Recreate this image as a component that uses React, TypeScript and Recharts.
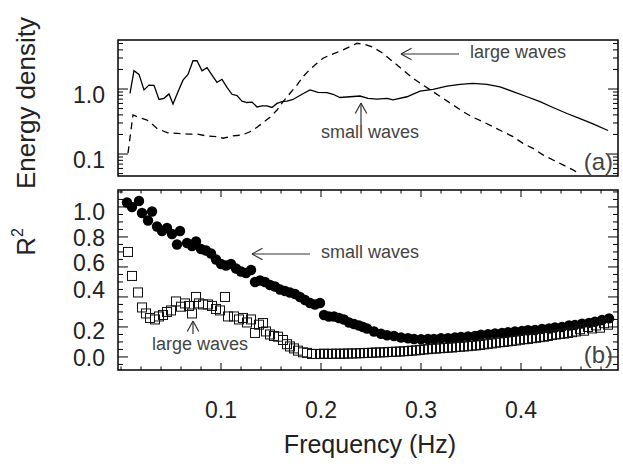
import React from "react";
import {
	Line,
	LineChart,
	ReferenceArea,
	Scatter,
	ScatterChart,
	XAxis,
	YAxis,
} from "recharts";

const FONT = "'Liberation Sans', Arial, Helvetica, sans-serif";
const PLOT_W = 500;
const TOP_H = 136;
const BOT_H = 180;

// panel (a) - energy density, solid = small waves, dashed = large waves
const solidFreq = [
	0.009, 0.013, 0.018, 0.023, 0.028, 0.033, 0.038, 0.043, 0.048, 0.052, 0.057,
	0.062, 0.067, 0.072, 0.076, 0.081, 0.086, 0.091, 0.096, 0.101, 0.106, 0.111,
	0.116, 0.121, 0.126, 0.131, 0.136, 0.141, 0.146, 0.151, 0.156, 0.161, 0.166,
	0.172, 0.181, 0.189, 0.197, 0.206, 0.212, 0.219, 0.229, 0.239, 0.247, 0.256,
	0.266, 0.272, 0.286, 0.299, 0.312, 0.326, 0.339, 0.352, 0.366, 0.379, 0.392,
	0.406, 0.419, 0.432, 0.446, 0.459, 0.472, 0.487,
];
const solidEnergy = [
	0.86, 1.91, 1.68, 0.97, 1.15, 1.14, 0.69, 0.72, 0.84, 0.59, 0.91, 1.37, 1.68,
	2.72, 2.72, 1.91, 2.13, 1.64, 1.27, 1.41, 1.06, 0.83, 0.79, 0.65, 0.62, 0.63,
	0.53, 0.55, 0.55, 0.52, 0.6, 0.64, 0.65, 0.69, 0.83, 0.97, 0.89, 0.88, 0.83,
	0.74, 0.76, 0.78, 0.72, 0.7, 0.72, 0.68, 0.76, 0.93, 0.99, 1.11, 1.18, 1.22,
	1.18, 1.08, 0.91, 0.76, 0.64, 0.52, 0.42, 0.35, 0.29, 0.23,
];
const dashFreq = [
	0.007, 0.01, 0.012, 0.017, 0.021, 0.026, 0.031, 0.036, 0.046, 0.056, 0.067,
	0.076, 0.086, 0.096, 0.102, 0.111, 0.121, 0.129, 0.136, 0.142, 0.149, 0.156,
	0.162, 0.169, 0.176, 0.182, 0.189, 0.196, 0.202, 0.209, 0.216, 0.222, 0.229,
	0.236, 0.246, 0.252, 0.262, 0.272, 0.282, 0.292, 0.302, 0.312, 0.322, 0.332,
	0.342, 0.352, 0.362, 0.372, 0.382, 0.392, 0.402, 0.412, 0.422, 0.432, 0.442,
	0.452, 0.459,
];
const dashEnergy = [
	0.103, 0.234, 0.4, 0.37, 0.354, 0.333, 0.29, 0.248, 0.213, 0.208, 0.203,
	0.203, 0.189, 0.185, 0.175, 0.189, 0.196, 0.22, 0.258, 0.303, 0.367, 0.475,
	0.638, 0.86, 1.15, 1.55, 2.01, 2.49, 2.97, 3.33, 3.67, 3.98, 4.48, 5.05, 4.75,
	4.38, 3.54, 2.63, 1.96, 1.46, 1.15, 0.91, 0.72, 0.57, 0.448, 0.367, 0.314,
	0.263, 0.22, 0.185, 0.146, 0.122, 0.097, 0.081, 0.068, 0.057, 0.049,
];

// panel (b) - R^2, filled circles = small waves, open squares = large waves
const smallFreq = [
	0.006, 0.011, 0.018, 0.021, 0.027, 0.031, 0.036, 0.041, 0.046, 0.051, 0.056,
	0.059, 0.066, 0.071, 0.075, 0.08, 0.085, 0.09, 0.095, 0.1, 0.105, 0.11, 0.115,
	0.12, 0.125, 0.13, 0.134, 0.139, 0.144, 0.149, 0.154, 0.159, 0.164, 0.169,
	0.174, 0.179, 0.184, 0.189, 0.194, 0.199, 0.203, 0.208, 0.213, 0.218, 0.223,
	0.228, 0.233, 0.238, 0.242, 0.246, 0.253, 0.26, 0.266, 0.273, 0.28, 0.287,
	0.293, 0.3, 0.307, 0.313, 0.32, 0.327, 0.334, 0.34, 0.347, 0.354, 0.36, 0.367,
	0.374, 0.381, 0.387, 0.394, 0.401, 0.407, 0.414, 0.421, 0.428, 0.434, 0.441,
	0.448, 0.454, 0.461, 0.468, 0.474, 0.481, 0.488,
];
const smallR2 = [
	1.03, 1.0, 1.04, 0.96, 0.91, 0.97, 0.87, 0.84, 0.86, 0.82, 0.75, 0.84, 0.76,
	0.74, 0.77, 0.72, 0.71, 0.69, 0.65, 0.62, 0.61, 0.62, 0.59, 0.57, 0.56, 0.58,
	0.5, 0.51, 0.5, 0.48, 0.47, 0.45, 0.44, 0.43, 0.42, 0.4, 0.38, 0.36, 0.35,
	0.36, 0.28, 0.27, 0.27, 0.26, 0.25, 0.23, 0.22, 0.21, 0.2, 0.19, 0.17, 0.155,
	0.145, 0.14, 0.13, 0.125, 0.12, 0.118, 0.12, 0.12, 0.125, 0.125, 0.13, 0.133,
	0.137, 0.14, 0.148, 0.152, 0.157, 0.16, 0.165, 0.17, 0.174, 0.178, 0.18,
	0.187, 0.19, 0.196, 0.2, 0.21, 0.213, 0.222, 0.227, 0.235, 0.246, 0.257,
];
const largeFreq = [
	0.007, 0.011, 0.017, 0.021, 0.025, 0.029, 0.034, 0.038, 0.042, 0.046, 0.05,
	0.055, 0.06, 0.064, 0.068, 0.071, 0.075, 0.078, 0.082, 0.087, 0.091, 0.095,
	0.099, 0.104, 0.107, 0.113, 0.118, 0.122, 0.126, 0.13, 0.134, 0.138, 0.142,
	0.145, 0.149, 0.153, 0.157, 0.162, 0.166, 0.169, 0.173, 0.177, 0.182, 0.186,
	0.191, 0.195, 0.199, 0.203, 0.207, 0.211, 0.215, 0.219, 0.223, 0.227, 0.231,
	0.235, 0.239, 0.243, 0.247, 0.251, 0.255, 0.259, 0.263, 0.267, 0.271, 0.275,
	0.279, 0.283, 0.287, 0.291, 0.295, 0.299, 0.303, 0.307, 0.311, 0.315, 0.319,
	0.323, 0.327, 0.331, 0.335, 0.339, 0.343, 0.347, 0.351, 0.355, 0.359, 0.363,
	0.367, 0.371, 0.375, 0.379, 0.383, 0.387, 0.391, 0.395, 0.399, 0.403, 0.407,
	0.411, 0.415, 0.419, 0.423, 0.427, 0.431, 0.435, 0.439, 0.443, 0.447, 0.451,
	0.455, 0.459, 0.463, 0.467, 0.471, 0.475, 0.479, 0.483, 0.487,
];
const largeR2 = [
	0.7, 0.54, 0.43, 0.33, 0.29, 0.26, 0.25, 0.27, 0.28, 0.3, 0.31, 0.37, 0.335,
	0.357, 0.34, 0.29, 0.4, 0.357, 0.35, 0.35, 0.34, 0.32, 0.31, 0.4, 0.27, 0.27,
	0.25, 0.26, 0.23, 0.25, 0.16, 0.215, 0.226, 0.17, 0.15, 0.14, 0.135, 0.113,
	0.085, 0.07, 0.057, 0.042, 0.031, 0.027, 0.02, 0.02, 0.02, 0.022, 0.02, 0.021,
	0.022, 0.021, 0.022, 0.023, 0.023, 0.024, 0.025, 0.026, 0.027, 0.028, 0.03,
	0.03, 0.031, 0.033, 0.034, 0.035, 0.036, 0.038, 0.04, 0.042, 0.044, 0.047,
	0.05, 0.052, 0.055, 0.056, 0.058, 0.06, 0.062, 0.063, 0.066, 0.068, 0.07,
	0.072, 0.075, 0.077, 0.08, 0.084, 0.088, 0.09, 0.095, 0.098, 0.1, 0.104,
	0.107, 0.11, 0.115, 0.118, 0.12, 0.125, 0.128, 0.132, 0.135, 0.14, 0.146,
	0.15, 0.153, 0.156, 0.16, 0.165, 0.17, 0.185, 0.175, 0.2, 0.19, 0.21, 0.195,
	0.225, 0.215,
];

const freqTicks = [
	0, 0.02, 0.04, 0.06, 0.08, 0.1, 0.12, 0.14, 0.16, 0.18, 0.2, 0.22, 0.24, 0.26,
	0.28, 0.3, 0.32, 0.34, 0.36, 0.38, 0.4, 0.42, 0.44, 0.46, 0.48,
];
const freqMajor = [0.1, 0.2, 0.3, 0.4];
const energyTicks = [
	0.05, 0.06, 0.07, 0.08, 0.09, 0.1, 0.2, 0.3, 0.4, 0.5, 0.6, 0.7, 0.8, 0.9, 1,
	2, 3, 4, 5,
];
const energyMajor = [0.1, 1];
const r2Ticks = [
	-0.05, 0, 0.05, 0.1, 0.15, 0.2, 0.25, 0.3, 0.35, 0.4, 0.45, 0.5, 0.55, 0.6,
	0.65, 0.7, 0.75, 0.8, 0.85, 0.9, 0.95, 1, 1.05, 1.1,
];
const r2Major = [0, 0.2, 0.4, 0.6, 0.8, 1];

const xDomain = [-0.003, 0.497];
const energyDomain = [0.0459, 5.675];
const r2Domain = [-0.087, 1.113];

const solidData = solidFreq.map((f, i) => ({ f, e: solidEnergy[i] }));
const dashData = dashFreq.map((f, i) => ({ f, e: dashEnergy[i] }));
const smallData = smallFreq.map((f, i) => ({ f, r2: smallR2[i] }));
const largeData = largeFreq.map((f, i) => ({ f, r2: largeR2[i] }));

const TICK_FONT = 23;

const near = (v: number, list: number[]) =>
	list.some((m) => Math.abs(v - m) < 1e-9);

// ticks point inward and are repeated on the opposite side of the box
function FreqTick(props: any) {
	const { x, y, payload, plotH, labelled } = props;
	const v = payload.value;
	const major = near(v, freqMajor);
	const len = major ? 7 : 3.5;
	return (
		<g>
			<line x1={x} y1={y} x2={x} y2={y - len} stroke="#000" />
			<line x1={x} y1={y - plotH} x2={x} y2={y - plotH + len} stroke="#000" />
			{labelled && major ? (
				<text
					x={x}
					y={y + 40}
					textAnchor="middle"
					dominantBaseline="central"
					fontSize={TICK_FONT}
					fontFamily={FONT}
					fill="#222"
				>
					{v.toFixed(1)}
				</text>
			) : null}
		</g>
	);
}

function SideTick(props: any) {
	const { x, y, payload, majors, nudge } = props;
	const v = payload.value;
	const major = near(v, majors);
	const len = major ? 10 : 5;
	const label = major ? v.toFixed(1) : null;
	const dy = label && nudge ? nudge[label] ?? 0 : 0;
	return (
		<g>
			<line x1={x} y1={y} x2={x + len} y2={y} stroke="#000" />
			<line x1={x + PLOT_W} y1={y} x2={x + PLOT_W - len} y2={y} stroke="#000" />
			{label ? (
				<text
					x={x - 13}
					y={y + dy}
					textAnchor="end"
					dominantBaseline="central"
					fontSize={TICK_FONT}
					fontFamily={FONT}
					fill="#222"
				>
					{label}
				</text>
			) : null}
		</g>
	);
}

const energyNudge = { "1.0": 6, "0.1": 6 };
const r2Nudge = { "1.0": 5, "0.8": 1, "0.6": -4, "0.4": -7, "0.2": 4, "0.0": 1 };

const FilledDot = (p: any) => <circle cx={p.cx} cy={p.cy} r={5.2} fill="#000" />;
const OpenSquare = (p: any) => (
	<rect
		x={p.cx - 4.5}
		y={p.cy - 4.5}
		width={9}
		height={9}
		fill="none"
		stroke="#111"
		strokeWidth={1}
	/>
);

function Arrow({ x1, y1, x2, y2 }: any) {
	const a = Math.atan2(y2 - y1, x2 - x1);
	const h = 12;
	const s = 0.5;
	return (
		<g stroke="#333" strokeWidth={1.2} fill="none">
			<line x1={x1} y1={y1} x2={x2} y2={y2} />
			<line x1={x2} y1={y2} x2={x2 - h * Math.cos(a - s)} y2={y2 - h * Math.sin(a - s)} />
			<line x1={x2} y1={y2} x2={x2 - h * Math.cos(a + s)} y2={y2 - h * Math.sin(a + s)} />
		</g>
	);
}

const note = { fontSize: 18, fontFamily: FONT, fill: "#444" };

export default function App() {
	return (
		<div
			style={{
				position: "absolute",
				left: 0,
				top: 0,
				width: 623,
				height: 468,
				background: "#fff",
				fontFamily: FONT,
			}}
		>
			<div style={{ position: "absolute", left: 0, top: 0 }}>
				<LineChart
					width={623}
					height={186}
					margin={{ top: 40, right: 5, bottom: 10, left: 0 }}
				>
					<XAxis
						type="number"
						dataKey="f"
						domain={xDomain}
						allowDataOverflow
						ticks={freqTicks}
						interval={0}
						height={0}
						axisLine={false}
						tickLine={false}
						tickSize={0}
						tickMargin={0}
						tick={<FreqTick plotH={TOP_H} labelled={false} />}
					/>
					<YAxis
						type="number"
						scale="log"
						domain={energyDomain}
						allowDataOverflow
						ticks={energyTicks}
						interval={0}
						width={118}
						axisLine={false}
						tickLine={false}
						tickSize={0}
						tickMargin={0}
						tick={<SideTick majors={energyMajor} nudge={energyNudge} />}
					/>
					<ReferenceArea
						x1={xDomain[0]}
						x2={xDomain[1]}
						y1={energyDomain[0]}
						y2={energyDomain[1]}
						ifOverflow="visible"
						fill="none"
						stroke="#000"
						strokeWidth={1.5}
					/>
					<Line
						data={solidData}
						dataKey="e"
						type="linear"
						stroke="#000"
						strokeWidth={1.3}
						dot={false}
						isAnimationActive={false}
					/>
					<Line
						data={dashData}
						dataKey="e"
						type="linear"
						stroke="#000"
						strokeWidth={1.3}
						strokeDasharray="7 5"
						dot={false}
						isAnimationActive={false}
					/>
				</LineChart>
			</div>

			<div style={{ position: "absolute", left: 0, top: 186 }}>
				<ScatterChart
					width={623}
					height={282}
					margin={{ top: 4, right: 5, bottom: 0, left: 0 }}
				>
					<XAxis
						type="number"
						dataKey="f"
						domain={xDomain}
						allowDataOverflow
						ticks={freqTicks}
						interval={0}
						height={98}
						axisLine={false}
						tickLine={false}
						tickSize={0}
						tickMargin={0}
						tick={<FreqTick plotH={BOT_H} labelled />}
					/>
					<YAxis
						type="number"
						dataKey="r2"
						domain={r2Domain}
						allowDataOverflow
						ticks={r2Ticks}
						interval={0}
						width={118}
						axisLine={false}
						tickLine={false}
						tickSize={0}
						tickMargin={0}
						tick={<SideTick majors={r2Major} nudge={r2Nudge} />}
					/>
					<ReferenceArea
						x1={xDomain[0]}
						x2={xDomain[1]}
						y1={r2Domain[0]}
						y2={r2Domain[1]}
						ifOverflow="visible"
						fill="none"
						stroke="#000"
						strokeWidth={1.5}
					/>
					<Scatter
						data={smallData}
						dataKey="r2"
						shape={FilledDot}
						isAnimationActive={false}
					/>
					<Scatter
						data={largeData}
						dataKey="r2"
						shape={OpenSquare}
						isAnimationActive={false}
					/>
				</ScatterChart>
			</div>

			<svg
				width={623}
				height={468}
				style={{ position: "absolute", left: 0, top: 0, pointerEvents: "none" }}
			>
				<text
					transform="translate(26,103) rotate(-90)"
					textAnchor="middle"
					dominantBaseline="central"
					fontSize={26}
					fontFamily={FONT}
					fill="#222"
				>
					Energy density
				</text>
				<text
					transform="translate(26,242) rotate(-90)"
					textAnchor="middle"
					dominantBaseline="central"
					fontSize={26}
					fontFamily={FONT}
					fill="#222"
				>
					R<tspan dy={-9} fontSize={16}>2</tspan>
				</text>
				<text
					x={370}
					y={444}
					textAnchor="middle"
					dominantBaseline="central"
					fontSize={25}
					fontFamily={FONT}
					fill="#222"
				>
					Frequency (Hz)
				</text>

				<Arrow x1={459} y1={54} x2={401} y2={54} />
				<text x={470} y={58} {...note}>large waves</text>
				<Arrow x1={361} y1={125} x2={361} y2={103} />
				<text x={321} y={138} {...note}>small waves</text>
				<Arrow x1={310} y1={254} x2={252} y2={254} />
				<text x={321} y={258} {...note}>small waves</text>
				<Arrow x1={193} y1={334} x2={193} y2={321} />
				<text x={152} y={350} {...note}>large waves</text>

				<text x={613} y={161} textAnchor="end" dominantBaseline="central" fontSize={24} fontFamily={FONT} fill="#444">(a)</text>
				<text x={613} y={354} textAnchor="end" dominantBaseline="central" fontSize={24} fontFamily={FONT} fill="#444">(b)</text>
			</svg>
		</div>
	);
}
